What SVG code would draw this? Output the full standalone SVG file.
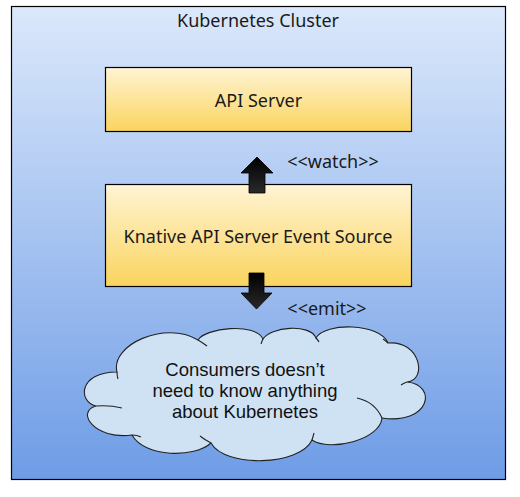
<svg xmlns="http://www.w3.org/2000/svg" width="520" height="497" viewBox="0 0 520 497">
<defs>
<linearGradient id="gBlue" x1="0" y1="0" x2="0" y2="1"><stop offset="0" stop-color="#dbe8fb"/><stop offset="1" stop-color="#6e9ce6"/></linearGradient>
<linearGradient id="gYellow" x1="0" y1="0" x2="0" y2="1"><stop offset="0" stop-color="#fff4d4"/><stop offset="1" stop-color="#fad45e"/></linearGradient>
<linearGradient id="gArrow" x1="0" y1="0" x2="0" y2="1"><stop offset="0" stop-color="#000"/><stop offset="1" stop-color="#2a2a2a"/></linearGradient>
<style>
.lbl{font-family:"Noto Sans","Open Sans","DejaVu Sans",sans-serif;font-size:18px;fill:#1a1a1a;text-anchor:middle}
.box{fill:url(#gYellow);stroke:#000;stroke-width:1.2}
.arrow{fill:url(#gArrow);stroke:#000;stroke-width:0.8}
.cloud{fill:#cfe2f3;stroke:#222;stroke-width:1.1}
.tail{fill:none;stroke:#222;stroke-width:1.1}
.ctext{font-family:"Liberation Sans",Arial,sans-serif;font-size:18.5px;fill:#111;text-anchor:middle}
</style>
</defs>
<g id="cluster">
<rect x="11.5" y="6.5" width="494" height="473" fill="url(#gBlue)" stroke="#000" stroke-width="1.2"/>
<text class="lbl" x="258" y="27">Kubernetes Cluster</text>
</g>
<g id="api-server">
<rect class="box" x="105.5" y="67.5" width="306" height="64"/>
<text class="lbl" x="258.5" y="106.5">API Server</text>
</g>
<g id="event-source">
<rect class="box" x="105.5" y="184.5" width="306" height="102"/>
<text class="lbl" x="258" y="242.5">Knative API Server Event Source</text>
</g>
<g id="consumers">
<path class="cloud" d="M117,372 C110,345 165,320 198,340 C205,328 255,322 263,339 C270,327 310,323 316,338 C325,322 380,323 388,343 C420,340 428,380 407,382 C438,385 430,425 382,418 C380,440 330,452 312,440 C300,466 225,468 211,443 C195,458 145,458 132,435 C95,440 75,412 96,406 C78,402 78,372 117,372 Z"/>
<path class="tail" d="M117,372 Q117,376 118,379 M198,340 Q203,343 207,346 M263,339 Q262,341 261,344 M316,338 Q318,340 319,342 M388,343 Q386,341 383,339 M407,382 Q404,383 401,385 M382,418 Q375,402 357,398 M312,440 Q313,437 314,433 M211,443 Q205,440 200,436 M132,435 Q137,435 141,437 M96,406 Q110,405 122,408"/>
<text class="ctext" x="245" y="376">Consumers doesn’t</text>
<text class="ctext" x="245" y="397">need to know anything</text>
<text class="ctext" x="245" y="418">about Kubernetes</text>
</g>
<g id="connectors">
<g id="watch">
<polygon class="arrow" points="249,193 249,173 241,173 257,157 273,173 265,173 265,193"/>
<text class="lbl" x="333" y="168">&lt;&lt;watch&gt;&gt;</text>
</g>
<g id="emit">
<polygon class="arrow" points="249,273 264,273 264,293 272,293 256.5,309 241,293 249,293"/>
<text class="lbl" x="327" y="315">&lt;&lt;emit&gt;&gt;</text>
</g>
</g>
</svg>
